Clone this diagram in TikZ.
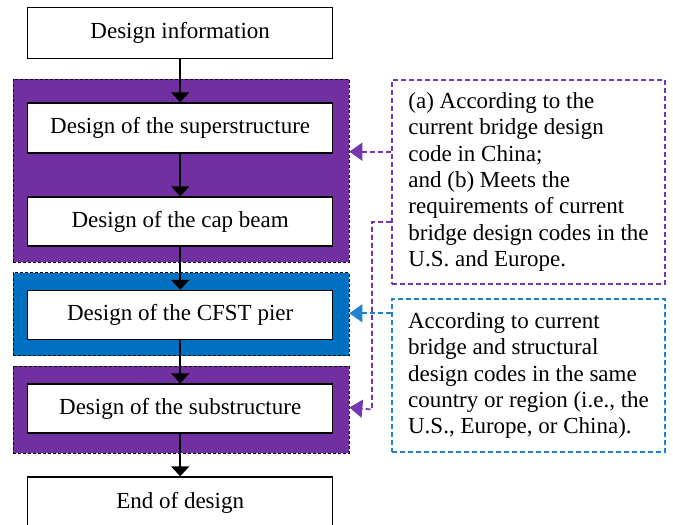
\documentclass[tikz,border=0pt]{standalone}
\usepackage{fontspec}
\setmainfont{Liberation Serif}
\usetikzlibrary{arrows.meta,calc}
\definecolor{pur}{HTML}{7030A0}
\definecolor{blu}{HTML}{0070C0}
\definecolor{lpur}{HTML}{7636AE}
\definecolor{lblu}{HTML}{1F82D0}
\begin{document}
\begin{tikzpicture}[x=1pt,y=-1pt,
  stepbox/.style={draw=black,fill=white,line width=1.3pt,minimum width=305pt,minimum height=49pt,inner sep=0pt,font=\fontsize{23}{26}\selectfont},
  groupbox/.style={draw=black,dashed,line width=0.8pt,dash pattern=on 3pt off 2pt,minimum width=336pt,inner sep=0pt},
  notebox/.style={line width=1.7pt,dash pattern=on 5pt off 3pt,minimum width=273pt,inner xsep=14pt,inner ysep=0pt,align=left,font=\fontsize{23}{26.4}\selectfont},
  flow/.style={line width=1.5pt,-{Triangle[width=18pt,length=10pt]}},
  link/.style={line width=1.7pt,dash pattern=on 5pt off 3pt}]
\useasboundingbox (0,0) rectangle (673,525);
% groups
\node[groupbox,fill=pur,minimum height=183pt] (g1) at (181,170.5) {};
\node[groupbox,fill=blu,minimum height=83pt] (g2) at (181,314) {};
\node[groupbox,fill=pur,minimum height=87pt] (g3) at (181,409.5) {};
% steps
\node[stepbox,minimum height=51pt] (info) at (180.2,33) {Design information};
\node[stepbox,minimum height=50pt] (sup) at (180.2,128) {Design of the superstructure};
\node[stepbox] (cap) at (180.2,221.5) {Design of the cap beam};
\node[stepbox] (pier) at (180.2,315) {Design of the CFST pier};
\node[stepbox] (sub) at (180.2,408.5) {Design of the substructure};
\node[stepbox,minimum height=52pt] (end) at (180.2,503) {End of design};
\draw[flow] (info) -- (sup);
\draw[flow] (sup) -- (cap);
\draw[flow] (cap) -- (pier);
\draw[flow] (pier) -- (sub);
\draw[flow] (sub) -- (end);
% notes
\node[notebox,draw=lpur,minimum height=204pt] (n1) at (528.5,182) {(a) According to the\\current bridge design\\code in China;\\and (b) Meets the\\requirements of current\\bridge design codes in the\\U.S. and Europe.};
\node[notebox,draw=lblu,minimum height=153pt] (n2) at (528.5,375.5) {According to current\\bridge and structural\\design codes in the same\\country or region (i.e., the\\U.S., Europe, or China).};
\coordinate (c1) at ([yshift=30.3pt]n1.west);
\coordinate (c2) at ([yshift=-40pt]n1.west);
\coordinate (c3) at ([yshift=62.2pt]n2.west);
\coordinate (bend) at (372,0);
\draw[link,draw=lpur,-{Triangle[width=18pt,length=13pt,fill=lpur]}] (c1) -- (g1.east |- c1);
\draw[link,draw=lpur,-{Triangle[width=18pt,length=13pt,fill=lpur]}] (c2) -- (bend |- c2) -- (bend |- g3.east) -- ([yshift=2pt]g3.east);
\draw[link,draw=lblu,-{Triangle[width=18pt,length=13pt,fill=lblu]}] (c3) -- (g2.east |- c3);
\end{tikzpicture}
\end{document}
